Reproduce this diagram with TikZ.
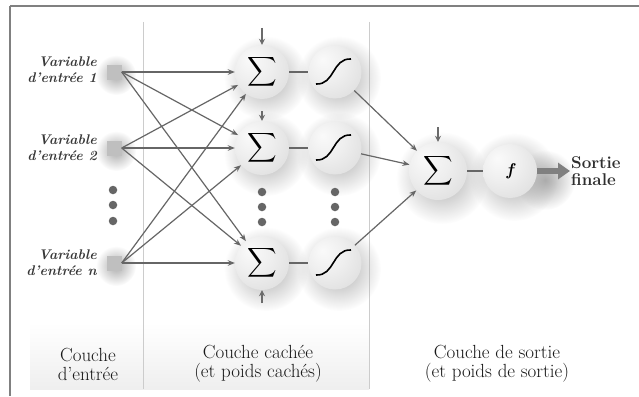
\documentclass[tikz,border=0pt]{standalone}
\usepackage{graphicx}
\usetikzlibrary{arrows.meta,fadings}

\pgfdeclareradialshading{myball}{\pgfpoint{-12bp}{12bp}}{color(0bp)=(gray!4); color(18bp)=(gray!13); color(38bp)=(gray!26); color(50bp)=(gray!36); color(66bp)=(gray!46)}
\pgfdeclareverticalshading{panelv}{100bp}{color(0bp)=(gray!50); color(4bp)=(gray!40); color(14bp)=(gray!28); color(27bp)=(gray!10); color(34bp)=(white); color(82bp)=(white); color(93bp)=(gray!20); color(100bp)=(gray!32)}
\pgfdeclareradialshading{outpanel}{\pgfpointorigin}{color(0bp)=(white); color(32bp)=(white); color(40bp)=(gray!22); color(50bp)=(gray!42)}
\tikzfading[name=halo, inner color=transparent!0, outer color=transparent!100]

\newcommand{\bigsum}{\scalebox{2.05}{$\displaystyle\sum$}}

\tikzset{
  ball/.style={circle, minimum size=54pt, inner sep=0pt, shade, shading=myball},
  insq/.style={rectangle, minimum size=15pt, inner sep=0pt, fill=gray!50},
  link/.style={draw=black!60, line width=1.2pt},
  arr/.style={link, -{Stealth[length=7pt,width=5.5pt]}},
  bias/.style={draw=black!58, line width=1.8pt, -{Stealth[length=6pt,width=6pt]}},
  dot/.style={circle, minimum size=8.5pt, inner sep=0pt, fill=black!60},
  varlab/.style={align=right, anchor=east, inner sep=1pt, font=\fontsize{14}{16}\selectfont\bfseries\itshape, text=black!78},
  layerlab/.style={align=center, inner sep=1pt, font=\fontsize{19}{19}\selectfont, text=black!90},
  sig/.style={line width=1.6pt, draw=black},
  shadowblob/.style={fill=gray!65, path fading=halo}
}

\begin{document}
\begin{tikzpicture}[x=1pt,y=-1pt]
\useasboundingbox (0,0) rectangle (639,396);
\fill[white] (0,0) rectangle (639,396);

% panels
\shade[shading=panelv] (30,22) rectangle (143,389);
\shade[shading=panelv] (143,22) rectangle (369,389);
\begin{scope}
  \clip (369,22) rectangle (634,389);
  \shade[shading=outpanel] (505,150) circle (260);
\end{scope}
\draw[gray!40, line width=0.8pt] (143,22) -- (143,389);
\draw[gray!40, line width=0.8pt] (369,22) -- (369,389);

% frame
\draw[black!50, line width=1.5pt] (10,6) -- (639,6);
\draw[black!50, line width=1.5pt] (10,6) -- (10,396);

% soft shadows
\foreach \x/\y in {262/72, 262/148, 262/263, 335/72, 335/148, 335/263}
  \fill[shadowblob] (\x+4,\y+6) circle (42);
\fill[shadowblob] (442,178) circle (46);
\fill[shadowblob] (514,177) circle (44);
\foreach \y in {72,148,263}
  \fill[shadowblob] (116,\y+3) circle (20);
\fill[shadowblob] (545,180) circle (30);

% input squares
\node[insq] (in1) at (114,72) {};
\node[insq] (in2) at (114,148) {};
\node[insq] (inn) at (114,263) {};

% input labels
\node[varlab] (lv1) at (98,70) {Variable\\d'entrée 1};
\node[varlab] (lv2) at (98,148) {Variable\\d'entrée 2};
\node[varlab] (lvn) at (98,263) {Variable\\d'entrée \textit{n}};

% dots
\node[dot] (d1) at (113,190) {};
\node[dot] (d2) at (113,205) {};
\node[dot] (d3) at (113,221) {};
\node[dot] (d4) at (262,192) {};
\node[dot] (d5) at (262,207) {};
\node[dot] (d6) at (262,222) {};
\node[dot] (d7) at (335,192) {};
\node[dot] (d8) at (335,207) {};
\node[dot] (d9) at (335,222) {};

% hidden sum nodes
\node[ball] (s1) at (262,72) {\bigsum};
\node[ball] (s2) at (262,148) {\bigsum};
\node[ball] (s3) at (262,263) {\bigsum};

% sigmoid nodes
\node[ball, minimum size=53pt] (g1) at (335,72) {};
\node[ball, minimum size=53pt] (g2) at (335,148) {};
\node[ball, minimum size=53pt] (g3) at (335,263) {};
\foreach \g in {g1,g2,g3}
  \draw[sig] ([shift={(-19,12)}]\g.center) .. controls +(19,1) and +(-19,-1) .. +(35,-25);

% output nodes
\node[ball, minimum size=58pt] (so) at (438,171) {\bigsum};
\node[ball, minimum size=54pt] (f) at (510,171) {\fontsize{17}{17}\selectfont\bfseries\itshape f};

% output text
\node[anchor=west, align=left, inner sep=1pt, font=\fontsize{17}{17}\selectfont\bfseries, text=black!82] (out) at (570,171) {Sortie\\finale};

% connections input -> hidden
\foreach \i in {in1,in2,inn}
  \foreach \s in {s1,s2,s3}
    \draw[arr] (\i.east) -- (\s);

% hidden sum -> sigmoid
\draw[link] (s1) -- (g1);
\draw[link] (s2) -- (g2);
\draw[link] (s3) -- (g3);

% sigmoid -> output sum
\draw[arr] (g1) -- (so);
\draw[arr] (g2) -- (so);
\draw[arr] (g3) -- (so);

% output sum -> f -> output
\draw[link] (so) -- (f);
\draw[draw=black!50, line width=6pt, -{Triangle[length=12pt,width=16pt]}] (f) -- (out.west);

% bias arrows
\coordinate (b1) at (262,28);
\coordinate (b2) at (262,111);
\coordinate (b3) at (262,303);
\coordinate (b4) at (438,127);
\draw[bias] (b1) -- (s1.north);
\draw[bias] (b2) -- (s2.north);
\draw[bias] (b3) -- (s3.south);
\draw[bias] (b4) -- (so.north);

% layer labels
\node[layerlab] (l1) at (88,364) {Couche\\d'entrée};
\node[layerlab] (l2) at (258,364) {Couche cachée\\(et poids cachés)};
\node[layerlab] (l3) at (497,364) {Couche de sortie\\(et poids de sortie)};
\end{tikzpicture}
\end{document}
